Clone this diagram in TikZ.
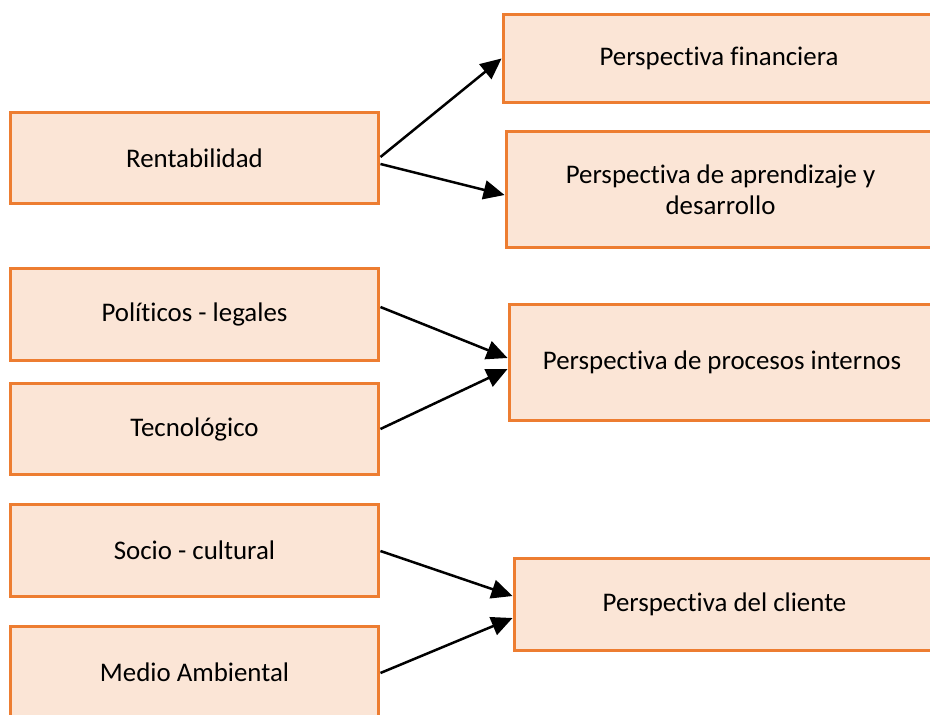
\documentclass[tikz,border=0pt]{standalone}
\usepackage{fontspec}
\setmainfont{Carlito}[Ligatures=NoCommon]
\usetikzlibrary{arrows.meta}
\definecolor{boxfill}{HTML}{FBE5D6}
\definecolor{boxline}{HTML}{ED7D31}
\begin{document}
\begin{tikzpicture}[x=0.02cm, y=-0.02cm,
    every node/.style={rectangle, draw=boxline, fill=boxfill, line width=0.06cm,
      font=\fontsize{15.3}{18}\selectfont, align=center},
    leftbox/.style={minimum width=7.38cm, minimum height=1.83cm},
    arr/.style={line width=0.05cm, -{Triangle[length=0.42cm, width=0.38cm]}}]
            \useasboundingbox (0,0) rectangle (930,714);
            % Factores
            \node[leftbox] (rent) at (194.5,158) {Rentabilidad};
            \node[leftbox] (pol) at (194.5,314.5) {Políticos - legales};
            \node[leftbox] (tec) at (194.5,429) {Tecnológico};
            \node[leftbox] (soc) at (194.5,550.5) {Socio - cultural};
            \node[leftbox] (med) at (194.5,672) {Medio Ambiental};
            % Perspectivas
            \node[minimum width=8.64cm, minimum height=1.78cm] (fin) at (719,58.5) {Perspectiva financiera};
            \node[minimum width=8.58cm, minimum height=2.34cm] (apr) at (720.5,189.5) {Perspectiva de aprendizaje y\\[-0.02cm]desarrollo};
            \node[minimum width=8.52cm, minimum height=2.34cm] (proc) at (722,362.5) {Perspectiva de procesos internos};
            \node[minimum width=8.42cm, minimum height=1.84cm] (cli) at (724.5,604) {Perspectiva del cliente};
            % Flechas
            \draw[arr] ([yshift=0.02cm]rent.east) -- (fin.west);
            \draw[arr] ([yshift=-0.12cm]rent.east) -- ([yshift=-0.11cm]apr.west);
            \draw[arr] ([yshift=0.15cm]pol.east) -- ([yshift=0.09cm]proc.west);
            \draw[arr] ([yshift=0cm]tec.east) -- ([yshift=-0.13cm]proc.west);
            \draw[arr] ([yshift=-0.01cm]soc.east) -- ([yshift=0.16cm]cli.west);
            \draw[arr] ([yshift=-0.02cm]med.east) -- ([yshift=-0.28cm]cli.west);
          \end{tikzpicture}
\end{document}
